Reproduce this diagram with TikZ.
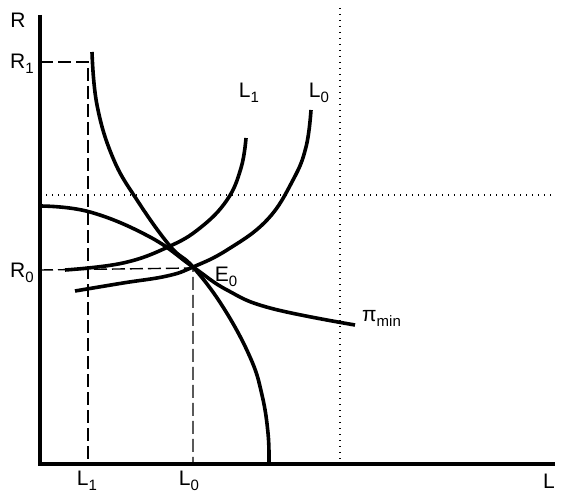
\documentclass[tikz,border=0pt]{standalone}
\usepackage{fontspec}
\setmainfont{Liberation Sans}
\usepackage{tikz}

\newcommand\lsub[1]{\raisebox{-0.45ex}{\fontsize{15}{15}\selectfont #1}}

\tikzset{
  axis/.style={line width=4pt},
  curve/.style={line width=3.6pt},
  guide/.style={line width=1.4pt, dash pattern=on 13pt off 5pt},
  grid/.style={line width=1.4pt, dash pattern=on 1.4pt off 4.6pt},
  lbl/.style={font=\fontsize{21}{22}\selectfont, inner sep=0pt}
}

\begin{document}
\begin{tikzpicture}[x=1pt,y=-1pt]
    \useasboundingbox (0,0) rectangle (569,497);

    % Reference points
    \coordinate (O) at (40,464);
    \coordinate (E0) at (193,268);
    \coordinate (R1) at (40,62);
    \coordinate (R0) at (40,270);
    \coordinate (Xend) at (555,464);
    \coordinate (Ytop) at (40,15);

    % Dotted guides
    \draw[grid] (40,195) -- (555,195);
    \draw[grid] (340,8) -- (340,464);

    % Dashed projections
    \draw[guide] (R1) -| (88,464);
    \draw[guide] (R0) -- (E0) -- (193,464);

    % Curves
    \draw[curve] plot[smooth, tension=0.7] coordinates {(92,52) (97,105) (113,158) (137,200) (170,246) (193,267) (223,307) (250,357) (262,395) (268,433) (269,463)};
    \draw[curve] plot[smooth, tension=0.7] coordinates {(40,206) (90,212) (150,237) (193,267) (227,290) (270,308) (355,325)};
    \draw[curve] plot[smooth, tension=0.7] coordinates {(65,270) (123,263) (168,247) (200,228) (227,200) (241,168) (246,138)};
    \draw[curve] plot[smooth, tension=0.7] coordinates {(75,291) (123,283) (167,276) (193,267) (227,250) (267,220) (293,180) (306,147) (311,110)};

    % Axes
    \draw[axis] (Ytop) -- (O) -- (Xend);

    % Labels
    \node[lbl] (labR) at (18,20) {R};
    \node[lbl] (labRone) at (22,64) {R\lsub{1}};
    \node[lbl] (labRzero) at (22,273) {R\lsub{0}};
    \node[lbl] (labLone) at (87,481) {L\lsub{1}};
    \node[lbl] (labLzero) at (189,481) {L\lsub{0}};
    \node[lbl] (labL) at (549,481) {L};
    \node[lbl] (labLoneC) at (249,93) {L\lsub{1}};
    \node[lbl] (labLzeroC) at (319,93) {L\lsub{0}};
    \node[lbl] (labE) at (226,277) {E\lsub{0}};
    \node[lbl, anchor=west] (labPi) at (362,318) {π\lsub{min}};
\end{tikzpicture}
\end{document}
